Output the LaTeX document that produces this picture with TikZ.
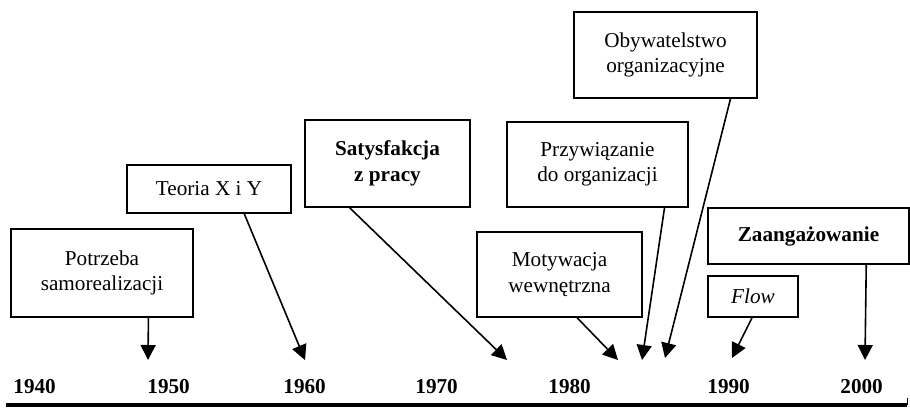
\documentclass[tikz,border=0pt]{standalone}
\usepackage{fontspec}
\setmainfont{Liberation Serif}
\usetikzlibrary{arrows.meta,calc}

\begin{document}
\begin{tikzpicture}[x=0.5pt, y=-0.5pt,
    box/.style={draw, line width=0.8pt, align=center, inner sep=2pt,
        font=\fontsize{10.6}{12.75}\selectfont},
    year/.style={anchor=base west, inner sep=0pt,
        font=\fontsize{10.6}{12.75}\selectfont\bfseries},
    arr/.style={-{Triangle[length=7.5pt, width=7.5pt]}, line width=0.8pt}]
    \useasboundingbox (0,0) rectangle (910,408);

    % Time axis
    \draw[line width=2pt] (6,405) coordinate (ax0) -- (907,405) coordinate (ax1);
    \draw[line width=0.5pt] (ax1) -- ++(0,-7);

    % Years
    \foreach \yr/\xx in {1940/13, 1950/147, 1960/283, 1970/415, 1980/548, 1990/707, 2000/840}
        \node[year] (y\yr) at (\xx,393) {\yr};

    % Concepts
    \node[box, minimum width=91pt, minimum height=44pt] (pot) at (102,273)
        {Potrzeba\\samorealizacji};
    \node[box, minimum width=82pt, minimum height=24pt] (teoria) at (209,189)
        {Teoria X i Y};
    \node[box, minimum width=82.5pt, minimum height=43.5pt] (satys) at (387.5,163.5)
        {\bfseries Satysfakcja\\\bfseries z pracy};
    \node[box, minimum width=90.5pt, minimum height=42.5pt] (przyw) at (597.5,164.5)
        {Przywiązanie\\do organizacji};
    \node[box, minimum width=91.5pt, minimum height=43pt] (obyw) at (665.5,55)
        {Obywatelstwo\\organizacyjne};
    \node[box, minimum width=82.5pt, minimum height=42.5pt] (motyw) at (559.5,274.5)
        {Motywacja\\wewnętrzna};
    \node[box, minimum width=100.5pt, minimum height=28pt] (zaang) at (808.5,236)
        {\bfseries Zaangażowanie};
    \node[box, minimum width=45pt, minimum height=20.5pt] (flow) at (753,296.5)
        {\itshape Flow};

    % Arrow tips on the axis
    \coordinate (t1950) at (148,360);
    \coordinate (t1960) at (305,360);
    \coordinate (t1975) at (507,360);
    \coordinate (t1983) at (618,360);
    \coordinate (t1984) at (642,360);
    \coordinate (t1985) at (665,358);
    \coordinate (t1990) at (732,358);
    \coordinate (t2000) at (865,360);

    % Arrows
    \draw[arr] ($(pot.south west)!0.753!(pot.south east)$) -- (t1950);
    \draw[arr] ($(teoria.south west)!0.713!(teoria.south east)$) -- (t1960);
    \draw[arr] ($(satys.south west)!0.273!(satys.south east)$) -- (t1975);
    \draw[arr] ($(motyw.south west)!0.606!(motyw.south east)$) -- (t1983);
    \draw[arr] ($(przyw.south west)!0.867!(przyw.south east)$) -- (t1984);
    \draw[arr] ($(obyw.south west)!0.852!(obyw.south east)$) -- (t1985);
    \draw[arr] ($(flow.south west)!0.489!(flow.south east)$) -- (t1990);
    \draw[arr] ($(zaang.south west)!0.785!(zaang.south east)$) -- (t2000);

\end{tikzpicture}
\end{document}
